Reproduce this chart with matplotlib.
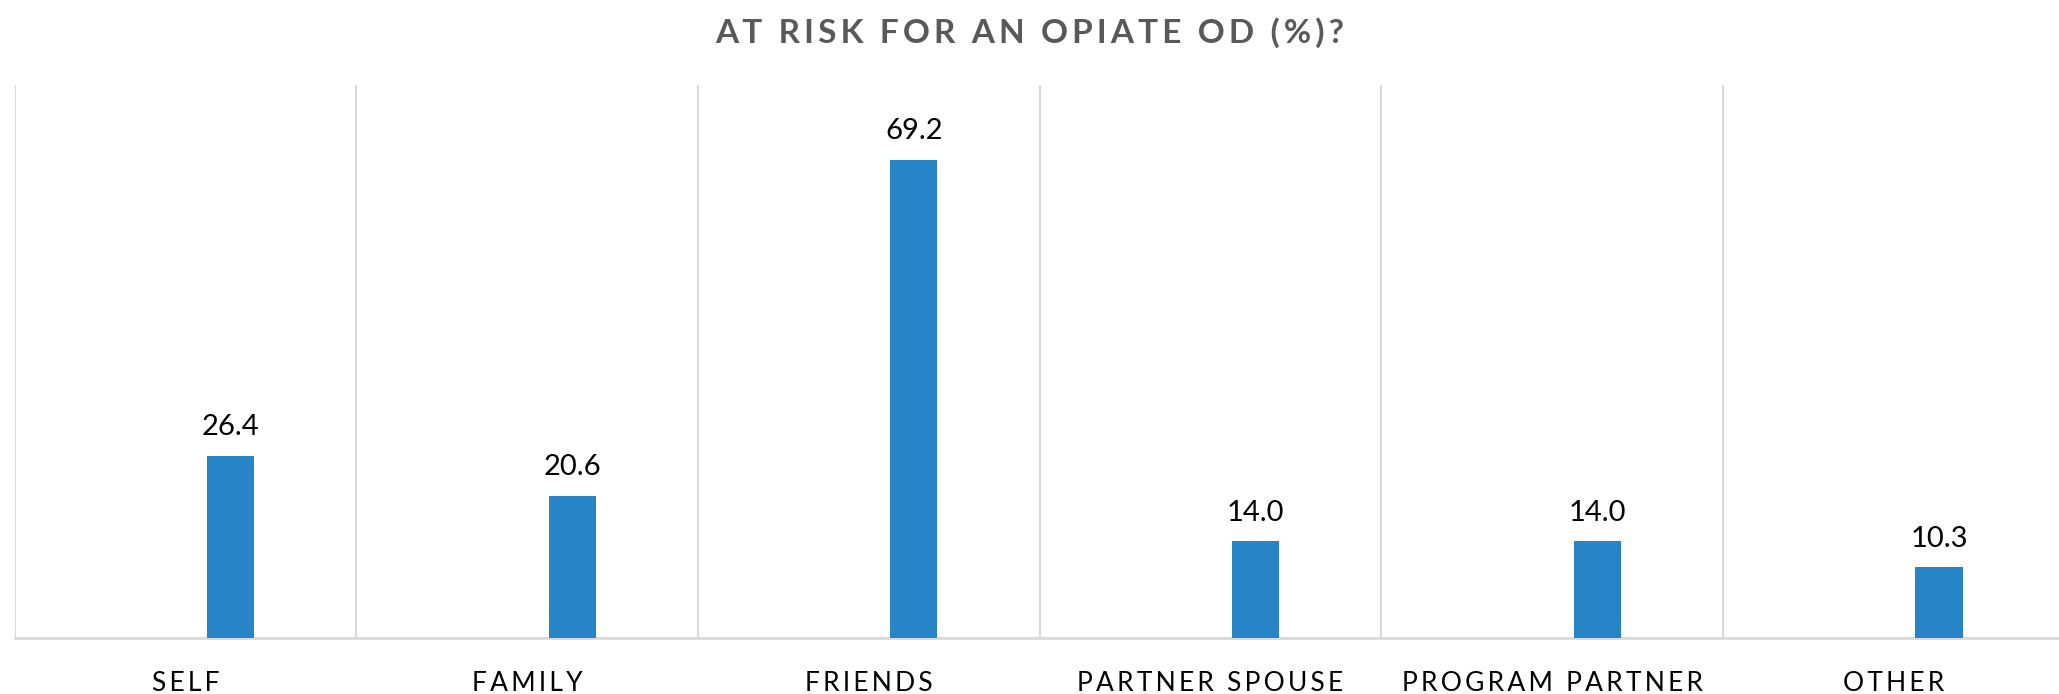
import matplotlib
matplotlib.use("Agg")
import matplotlib.pyplot as plt
import numpy as np

categories = ["SELF", "FAMILY", "FRIENDS", "PARTNER SPOUSE", "PROGRAM PARTNER", "OTHER"]
values = [26.4, 20.6, 69.2, 14.0, 14.0, 10.3]
title = "AT RISK FOR AN OPIATE OD (%)?"

FONTS = ["Lato", "DejaVu Sans"]
plt.rcParams["font.family"] = FONTS

def spaced(s, sep="\u200a"):
    return sep.join(list(s))

W, H = 2059, 694
left = 14.5
catw = 341.7
fig = plt.figure(figsize=(W / 100, H / 100), dpi=100)
ax = fig.add_axes([left / W, 1 - 638 / H, 6 * catw / W, (638 - 85) / H])

x = np.arange(len(categories))
bars = ax.bar(x + 0.132, values, width=0.138, color="#2784c6", zorder=3)
for xi, v in zip(x, values):
    ax.text(xi + 0.132, v + 2.2, f"{v:.1f}", ha="center", va="bottom",
            fontsize=21, color="black")

ax.set_xlim(-0.5, len(categories) - 0.5)
ax.set_ylim(0, 80)
ax.set_yticks([])
ax.set_xticks(x)
ax.set_xticklabels([spaced(c, "\u2009") for c in categories], fontsize=19, color="black")
ax.tick_params(axis="x", length=0, pad=24)
ax.set_xticks(np.arange(-0.5, len(categories)), minor=True)
ax.tick_params(axis="x", which="minor", length=0)
ax.grid(axis="x", which="minor", color="#d9d9d9", linewidth=1.5, zorder=0)
for s in ["top", "right", "left"]:
    ax.spines[s].set_visible(False)
ax.spines["bottom"].set_color("#d9d9d9")
ax.spines["bottom"].set_linewidth(2)

fig.text(0.5, 1 - 33 / H, spaced(title, "\u2009"), ha="center", va="center",
         fontsize=24, fontweight="bold", color="#595959")

fig.savefig("out.png", dpi=100)
